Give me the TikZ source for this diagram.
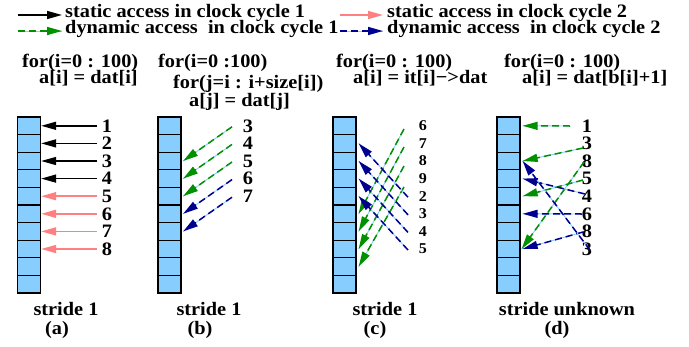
\documentclass[tikz,border=0pt]{standalone}
\usepackage{fontspec}
\setmainfont{Liberation Serif}[FakeStretch=1.07]
\usetikzlibrary{arrows.meta}

\definecolor{cellblue}{RGB}{135,206,255}
\definecolor{gapblue}{RGB}{135,206,255}
\definecolor{statpink}{RGB}{255,128,128}
\definecolor{dyngreen}{RGB}{0,144,0}
\definecolor{dynblue}{RGB}{0,0,144}

\tikzset{
  txt/.style={inner sep=0pt, font=\fontsize{19}{20}\selectfont\bfseries},
  small/.style={inner sep=0pt, font=\fontsize{15}{16}\selectfont\bfseries},
  cell/.style={draw, line width=1.3pt, fill=cellblue, minimum width=23pt,
    minimum height=17.6pt, inner sep=0pt},
  tip/.style={-{Triangle[length=15pt,width=8pt]}},
  statA/.style={tip, draw=black, line width=1.5pt},
  statB/.style={tip, draw=statpink, line width=1.5pt},
  dyn/.style={tip, line width=1.5pt, dash pattern=on 7pt off 4pt,
    preaction={draw=gapblue, solid, line width=0.9pt, -}},
  dynA/.style={dyn, draw=dyngreen},
  dynB/.style={dyn, draw=dynblue},
}

\begin{document}
\begin{tikzpicture}[x=1pt, y=-1pt]
\useasboundingbox (0,0) rectangle (689,346);

% ---------- legend ----------
\coordinate (l1s) at (18,15);  \coordinate (l1e) at (62,15);
\coordinate (l2s) at (18,31);  \coordinate (l2e) at (62,31);
\coordinate (l3s) at (340,15); \coordinate (l3e) at (383,15);
\coordinate (l4s) at (340,31); \coordinate (l4e) at (383,31);
\node[txt, anchor=base west] (lt1) at (65,17.5) {static access in clock cycle 1};
\node[txt, anchor=base west] (lt2) at (65,33.5) {dynamic access~ in clock cycle 1};
\node[txt, anchor=base west] (lt3) at (387,17.5) {static access in clock cycle 2};
\node[txt, anchor=base west] (lt4) at (387,33.5) {dynamic access~ in clock cycle 2};
\draw[statA] (l1s) -- (l1e);
\draw[dynA]  (l2s) -- (l2e);
\draw[statB] (l3s) -- (l3e);
\draw[dynB]  (l4s) -- (l4e);

% ---------- loop code ----------
\node[txt, anchor=base west] (ca1) at (22,67)  {for(i=0 : 100)};
\node[txt, anchor=base west] (ca2) at (39,83)  {a[i] = dat[i]};
\node[txt, anchor=base west] (cb1) at (158,67) {for(i=0 :100)};
\node[txt, anchor=base west] (cb2) at (173,88) {for(j=i : i+size[i])};
\node[txt, anchor=base west] (cb3) at (189,106) {a[j] = dat[j]};
\node[txt, anchor=base west] (cc1) at (336,67) {for(i=0 : 100)};
\node[txt, anchor=base west] (cc2) at (353,83) {a[i] = it[i]−>dat};
\node[txt, anchor=base west] (cd1) at (504,67) {for(i=0 : 100)};
\node[txt, anchor=base west] (cd2) at (522,83) {a[i] = dat[b[i]+1]};

% ---------- memory columns ----------
\foreach \p/\x in {a/29,b/169.5,c/344.5,d/508.5}
  \foreach \k in {1,...,10}
    \node[cell] (\p\k) at (\x,{117+17.6*(\k-0.5)}) {};

% ---------- (a) stride 1, static ----------
\foreach \k in {1,...,8} {
  \node[txt] (la\k) at (107,{117+17.6*(\k-0.5)}) {\k};
  \coordinate (sa\k) at (97,{117+17.6*(\k-0.5)});
}
\foreach \k in {1,...,4} \draw[statA] (sa\k) -- (a\k.east);
\foreach \k in {5,...,8} \draw[statB] (sa\k) -- (a\k.east);

% ---------- (b) stride 1, dynamic ----------
\foreach \k/\v in {1/3,2/4,3/5,4/6,5/7} {
  \node[txt] (lb\k) at (248,{117+17.6*(\k-0.5)}) {\v};
  \coordinate (sb\k) at (232,{118+17.6*(\k-0.5)});
}
\foreach \k/\t in {1/3,2/4,3/5} \draw[dynA] (sb\k) -- ([xshift=1.5pt]b\t.east);
\foreach \k/\t in {4/6,5/7} \draw[dynB] (sb\k) -- ([xshift=1.5pt]b\t.east);

% ---------- (c) stride 1, pointer chasing ----------
\foreach \k/\v in {1/6,2/7,3/8,4/9,5/2,6/3,7/4,8/5}
  \node[small] (lc\k) at (423,{117+17.6*(\k-0.5)}) {\v};
\coordinate (gc1) at (404,129);
\coordinate (gc2) at (404,147);
\coordinate (gc3) at (404,166);
\coordinate (gc4) at (404,187);
\foreach \k in {5,...,8}
  \coordinate (bc\k) at (408,{118+17.6*(\k-0.5)});
\draw[dynA] (gc1) -- ([xshift=2pt]c6.east);
\draw[dynA] (gc2) -- ([xshift=2pt]c7.east);
\draw[dynA] (gc3) -- ([xshift=2pt]c8.east);
\draw[dynA] (gc4) -- ([xshift=2pt]c9.east);
\draw[dynB] (bc5) -- ([xshift=2pt]c2.east);
\draw[dynB] (bc6) -- ([xshift=2pt]c3.east);
\draw[dynB] (bc7) -- ([xshift=2pt]c4.east);
\draw[dynB] (bc8) -- ([xshift=2pt]c5.east);

% ---------- (d) stride unknown ----------
\foreach \k/\v in {1/1,2/3,3/8,4/5,5/4,6/6,7/8,8/3}
  \node[txt] (ld\k) at (587,{117+17.6*(\k-0.5)}) {\v};
\coordinate (sd1) at (570,126);
\coordinate (sd2) at (583,148);
\coordinate (sd3) at (584,162);
\coordinate (sd4) at (583,180);
\coordinate (sd5) at (585,194);
\coordinate (sd6) at (582,214);
\coordinate (sd7) at (583,232);
\coordinate (sd8) at (590,250);
\draw[dynA] (sd1) -- ([xshift=2pt]d1.east);
\draw[dynA] (sd2) -- ([xshift=2pt]d3.east);
\draw[dynA] (sd3) -- ([xshift=1pt]d8.east);
\draw[dynA] (sd4) -- ([xshift=2pt]d5.east);
\draw[dynB] (sd5) -- ([xshift=2pt]d4.east);
\draw[dynB] (sd6) -- ([xshift=2pt]d6.east);
\draw[dynB] (sd7) -- ([xshift=2pt]d8.east);
\draw[dynB] (sd8) -- ([xshift=2pt]d3.east);

% ---------- captions ----------
\node[txt, anchor=base] (sa) at (66,315)  {stride 1};
\node[txt, anchor=base] (pa) at (57,334)  {(a)};
\node[txt, anchor=base] (sb) at (209,315) {stride 1};
\node[txt, anchor=base] (pb) at (200,334) {(b)};
\node[txt, anchor=base] (sc) at (385,315) {stride 1};
\node[txt, anchor=base] (pc) at (375,334) {(c)};
\node[txt, anchor=base] (sd) at (567,315) {stride unknown};
\node[txt, anchor=base] (pd) at (557,334) {(d)};
\end{tikzpicture}
\end{document}
